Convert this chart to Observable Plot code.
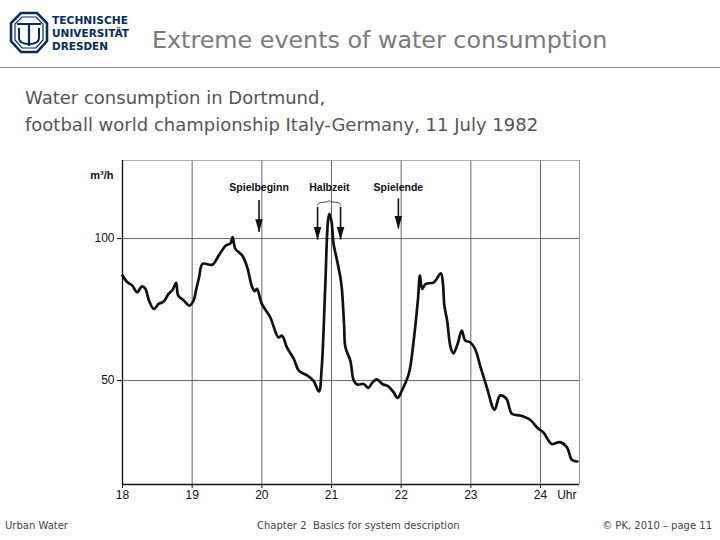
<!DOCTYPE html>
<html>
<head>
<meta charset="utf-8">
<script src="https://cdn.jsdelivr.net/npm/d3@7"></script>
<script src="https://cdn.jsdelivr.net/npm/@observablehq/plot@0.6"></script>
<style>
  html, body { margin: 0; padding: 0; background: #fff; }
  #page { position: relative; width: 720px; height: 540px; overflow: hidden; background: #fff; }
  .abs { position: absolute; white-space: nowrap; }
  #title { left: 152px; top: 26px; font-family: "DejaVu Sans", Verdana, sans-serif; font-size: 23.8px; color: #7a7a7a; }
  #rule { left: 0; top: 67px; width: 720px; height: 0; border-top: 1.5px solid #8a8a8a; }
  .sub { left: 25px; font-family: "DejaVu Sans", Verdana, sans-serif; font-size: 18px; color: #555; }
  .foot { top: 520px; font-family: "DejaVu Sans", Tahoma, sans-serif; font-size: 10px; color: #444; }
  #chart { left: 80px; top: 150px; }
</style>
</head>
<body>
<div id="page">
  <svg class="abs" style="left:8px;top:10px" width="130" height="46" viewBox="0 0 130 46">
    <g fill="none" stroke="#0b2a5b">
      <polygon points="13,3 29,3 39,13 39,31 29,42 13,42 3,31 3,13" stroke-width="2.6"/>
      <polygon points="14,7 28,7 35,14 35,30 28,38 14,38 7,30 7,14" stroke-width="1.2"/>
      <path d="M9,14 L33,14 M21,14 L21,36" stroke-width="2.2"/>
      <path d="M11,18 L11,28 Q11,34 21,34 Q31,34 31,28 L31,18" stroke-width="2"/>
    </g>
    <g fill="#0b2a5b" font-family="'DejaVu Sans Condensed', 'DejaVu Sans', sans-serif" font-weight="bold" font-size="11px">
      <text x="44" y="14" textLength="76" lengthAdjust="spacingAndGlyphs">TECHNISCHE</text>
      <text x="44" y="27" textLength="77" lengthAdjust="spacingAndGlyphs">UNIVERSITÄT</text>
      <text x="44" y="40" textLength="56" lengthAdjust="spacingAndGlyphs">DRESDEN</text>
    </g>
  </svg>
  <div id="title" class="abs">Extreme events of water consumption</div>
  <div id="rule" class="abs"></div>
  <div class="abs sub" style="top:87px">Water consumption in Dortmund,</div>
  <div class="abs sub" style="top:114px">football world championship Italy-Germany, 11 July 1982</div>
  <div id="chart" class="abs"></div>
  <div class="abs foot" style="left:5px">Urban Water</div>
  <div class="abs foot" style="left:257px">Chapter 2&nbsp; Basics for system description</div>
  <div class="abs foot" style="right:8px">© PK, 2010 – page 11</div>
</div>
<script>
// Time of day (hours) and water consumption (m³/h)
const hours = [18.0, 18.07, 18.14, 18.21, 18.28, 18.33, 18.38, 18.45, 18.52, 18.59, 18.66, 18.72, 18.77, 18.80, 18.88, 18.96, 19.02, 19.06, 19.10, 19.15, 19.29, 19.38, 19.48, 19.55, 19.58, 19.62, 19.72, 19.79, 19.86, 19.90, 19.93, 20.0, 20.12, 20.24, 20.29, 20.36, 20.46, 20.53, 20.65, 20.74, 20.82, 20.86, 20.91, 20.95, 20.97, 21.0, 21.03, 21.08, 21.13, 21.15, 21.18, 21.20, 21.27, 21.32, 21.37, 21.46, 21.53, 21.58, 21.65, 21.73, 21.82, 21.89, 21.95, 22.01, 22.11, 22.18, 22.24, 22.27, 22.30, 22.35, 22.47, 22.57, 22.60, 22.62, 22.66, 22.71, 22.75, 22.81, 22.87, 22.92, 22.99, 23.06, 23.14, 23.23, 23.34, 23.42, 23.51, 23.59, 23.71, 23.85, 23.97, 24.04, 24.16, 24.28, 24.38, 24.45, 24.53];
const flow = [87.0, 84.6, 83.5, 81.1, 83.2, 82.3, 78.2, 75.2, 77.0, 77.8, 80.5, 82.0, 84.4, 79.9, 78.2, 76.4, 78.2, 82.3, 86.4, 91.1, 90.8, 94.0, 97.5, 98.3, 100.5, 96.4, 94.0, 89.9, 83.0, 81.5, 82.3, 77.0, 72.3, 65.2, 65.8, 61.7, 57.6, 53.5, 51.8, 50.0, 46.2, 54.7, 82.9, 106.3, 108.7, 106.0, 98.1, 92.3, 86.0, 82.0, 70.0, 61.7, 57.0, 50.0, 48.6, 48.8, 47.4, 49.1, 50.4, 48.8, 47.9, 45.9, 43.9, 46.5, 52.4, 64.1, 78.2, 87.0, 82.3, 84.0, 84.6, 87.8, 84.0, 76.5, 71.1, 61.7, 59.6, 62.9, 67.6, 64.1, 63.5, 61.2, 54.7, 47.6, 39.7, 44.7, 43.6, 38.3, 37.7, 36.2, 33.0, 31.8, 27.7, 28.3, 26.5, 22.1, 21.5];

const hourTicks = [18, 19, 20, 21, 22, 23, 24];
const flowTicks = [50, 100];

// Match events (German labels as in the original)
const eventLabels = ["Spielbeginn", "Halbzeit", "Spielende"];
const eventLabelTimes = [19.96, 20.97, 21.96];
const arrowTimes = [19.96, 20.80, 21.13, 21.96];
const arrowTop = [113.4, 111.0, 111.0, 114.0];
const arrowTip = [102.2, 99.5, 99.5, 103.4];
const halfTimeStart = 20.80, halfTimeEnd = 21.13;

const series = hours.map((h, i) => ({hour: h, flow: flow[i]}));
const arrows = arrowTimes.map((t, i) => ({t, top: arrowTop[i], tip: arrowTip[i]}));
const labels = eventLabels.map((s, i) => ({s, t: eventLabelTimes[i]}));
const mid = (halfTimeStart + halfTimeEnd) / 2;
const brace = [
  {x: halfTimeStart, y: 111.8}, {x: halfTimeStart + 0.02, y: 112.8},
  {x: mid - 0.02, y: 112.8}, {x: mid, y: 113.6}, {x: mid + 0.02, y: 112.8},
  {x: halfTimeEnd - 0.02, y: 112.8}, {x: halfTimeEnd, y: 111.8}
];

const yMin = 13.4, yMax = 127.5, xMin = 18, xMax = 24.56;

const headSymbol = {
  draw(ctx) { ctx.moveTo(0, 0); ctx.lineTo(-3.8, -13); ctx.lineTo(3.8, -13); ctx.closePath(); }
};

const chart = Plot.plot({
  width: 520,
  height: 355,
  marginLeft: 42,
  marginRight: 21,
  marginTop: 10,
  marginBottom: 21,
  style: {fontFamily: "'Liberation Sans', Arial, sans-serif", fontSize: "12px", color: "#111", background: "transparent"},
  x: {domain: [xMin, xMax], ticks: hourTicks, tickFormat: d => String(d), tickSize: 4, tickPadding: 2, label: null},
  y: {domain: [yMin, yMax], ticks: flowTicks, tickSize: 5, tickPadding: 3, label: null},
  marks: [
    Plot.ruleX(hourTicks.slice(1), {stroke: "#555", strokeWidth: 0.9}),
    Plot.ruleY(flowTicks, {stroke: "#555", strokeWidth: 0.9}),
    Plot.ruleY([yMax], {stroke: "#999", strokeWidth: 0.8}),
    Plot.ruleX([xMax], {stroke: "#888", strokeWidth: 0.9}),
    Plot.ruleX([xMin], {stroke: "#111", strokeWidth: 1.3}),
    Plot.ruleY([yMin], {stroke: "#111", strokeWidth: 1.3}),
    Plot.line(series, {x: "hour", y: "flow", stroke: "#111", strokeWidth: 2.7, curve: "catmull-rom", strokeLinejoin: "round"}),
    Plot.ruleX(arrows, {x: "t", y1: "top", y2: "tip", stroke: "#111", strokeWidth: 1.6}),
    Plot.dot(arrows, {x: "t", y: "tip", symbol: headSymbol, fill: "#111", stroke: "none"}),
    Plot.line(brace, {x: "x", y: "y", stroke: "#333", strokeWidth: 0.9, curve: "basis"}),
    Plot.text(labels, {x: "t", y: 118, text: "s", fontSize: 10.5, fontWeight: "bold", fill: "#111"}),
    Plot.text(["m³/h"], {x: xMin, y: 122.2, textAnchor: "end", dx: -9, fontSize: 11, fontWeight: "bold", fill: "#111"}),
    Plot.text(["Uhr"], {frameAnchor: "bottom-right", textAnchor: "end", dx: -3, dy: 14, fontSize: 12, fill: "#111"})
  ]
});
document.getElementById("chart").appendChild(chart);
</script>
</body>
</html>
